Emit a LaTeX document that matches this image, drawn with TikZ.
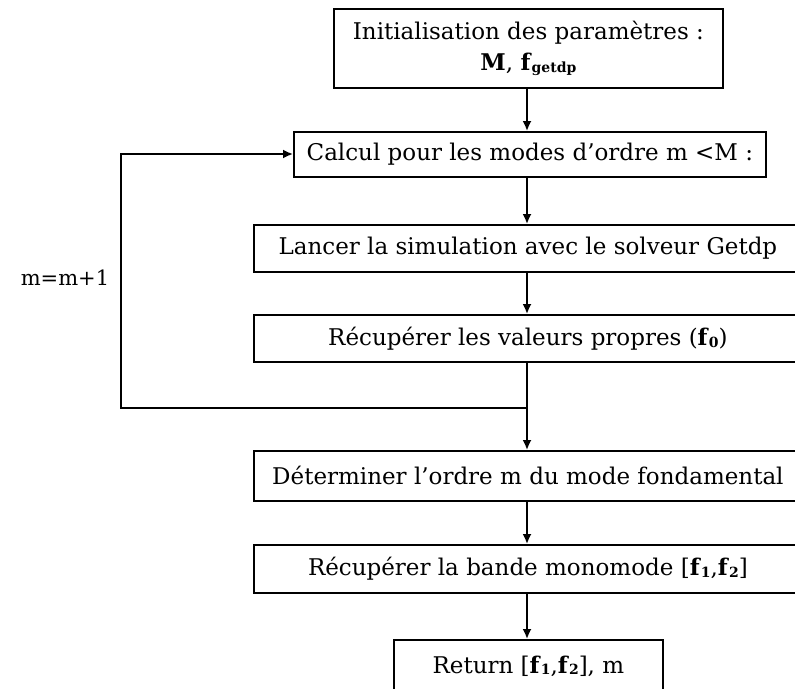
\documentclass[tikz,border=0pt]{standalone}
\usepackage{fontspec}
\setmainfont{DejaVu Serif}
\usetikzlibrary{arrows.meta}
\newcommand{\fsb}[1]{\textbf{f}\raisebox{-0.15ex}{\fontsize{14}{14}\selectfont\textbf{#1}}}
\begin{document}
\begin{tikzpicture}[x=1pt,y=-1pt,
  box/.style={draw, line width=1.8pt, inner sep=0pt, anchor=north west, font=\fontsize{23}{31}\selectfont},
  conn/.style={line width=1.8pt, -{Latex[length=10pt,width=9pt]}}]
\useasboundingbox (0,0) rectangle (795,688);
\clip (0,0) rectangle (795,688);
\node[box, minimum width=389pt, minimum height=79pt, align=center] (b1) at (333,8)
  {Initialisation des paramètres :\\ \textbf{M}, \fsb{getdp}};
\node[box, minimum width=472pt, minimum height=45pt] (b2) at (293,131)
  {Calcul pour les modes d’ordre m <M :};
\node[box, minimum width=548pt, minimum height=47pt] (b3) at (253,224)
  {Lancer la simulation avec le solveur Getdp};
\node[box, minimum width=548pt, minimum height=47pt] (b4) at (253,314)
  {Récupérer les valeurs propres (\fsb{0})};
\node[box, minimum width=548pt, minimum height=50pt] (b5) at (253,450)
  {Déterminer l’ordre m du mode fondamental};
\node[box, minimum width=548pt, minimum height=48pt] (b6) at (253,544)
  {Récupérer la bande monomode [\fsb{1},\fsb{2}]};
\node[box, minimum width=269pt, minimum height=52pt] (b7) at (393,639)
  {Return [\fsb{1},\fsb{2}], m};
\node[font=\fontsize{21}{25}\selectfont] (lbl) at (65,278) {m=m+1};
\coordinate (j) at (527,408);
\coordinate (c) at (121,408);
\coordinate (d) at (121,154);
\draw[conn] (b1.south -| j) -- (b2.north -| j);
\draw[conn] (b2.south -| j) -- (b3.north -| j);
\draw[conn] (b3.south -| j) -- (b4.north -| j);
\draw[conn] (b4.south -| j) -- (b5.north -| j);
\draw[conn] (b5.south -| j) -- (b6.north -| j);
\draw[conn] (b6.south -| j) -- (b7.north -| j);
\draw[conn] (j) -- (c) -- (d) -- (d -| b2.west);
\end{tikzpicture}
\end{document}
